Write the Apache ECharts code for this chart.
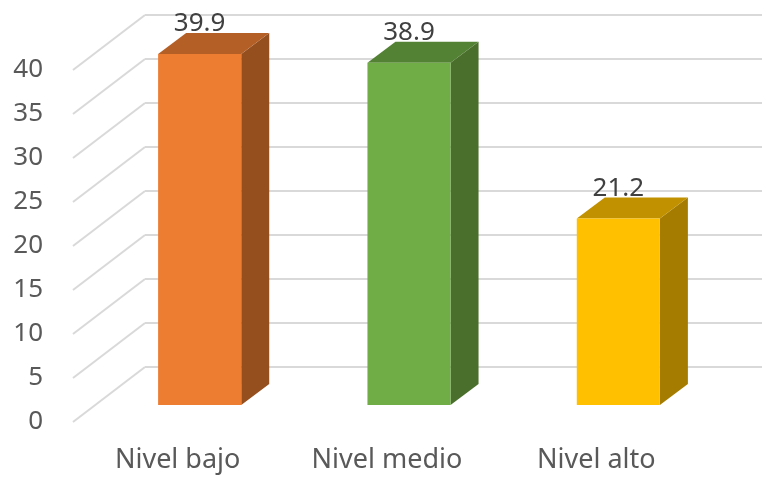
<!DOCTYPE html>
<html>
<head>
<meta charset="utf-8">
<script src="https://cdn.jsdelivr.net/npm/echarts@6/dist/echarts.min.js"></script>
<style>
  html, body { margin: 0; padding: 0; background: #ffffff; }
  #chart { width: 762px; height: 477px; }
</style>
</head>
<body>
<div id="chart"></div>
<script>
// Data
const categories = ['Nivel bajo', 'Nivel medio', 'Nivel alto'];
const values = [39.9, 38.9, 21.2];
const yTicks = [0, 5, 10, 15, 20, 25, 30, 35, 40];

// Shading for each column: front, top, side faces
const faceColors = [
  { front: '#ED7D31', top: '#B45F26', side: '#954F1F' },
  { front: '#70AD47', top: '#548235', side: '#4A6F2D' },
  { front: '#FFC000', top: '#C29100', side: '#A57C00' }
];

// Oblique 3D layout: floor front edge, column front plane, back wall
const PLOT_H = 352;
const WALL_DX = 72, WALL_DY = -55;   // full depth of the floor / side wall
const BAR_DX = 28, BAR_DY = -21;     // depth of each column
const BAR_FRAC = 0.397;              // column width as a share of the category band
const FONT = '"Noto Sans", "Liberation Sans", sans-serif';

const yMin = yTicks[0], yMax = yTicks[yTicks.length - 1], yStep = yTicks[1] - yTicks[0];

const chart = echarts.init(document.getElementById('chart'), null, { renderer: 'canvas' });

const option = {
  backgroundColor: '#ffffff',
  animation: false,
  grid: [
    { left: 73, width: 628, top: 70, height: PLOT_H },   // floor front edge
    { left: 95, width: 628, top: 53, height: PLOT_H },   // column front plane
    { left: 145, right: 0, top: 15, height: PLOT_H }     // back wall
  ],
  xAxis: [
    {
      gridIndex: 0, type: 'category', data: categories,
      axisLine: { show: false }, axisTick: { show: false }, splitLine: { show: false },
      axisLabel: { margin: 25, fontSize: 27, color: '#595959', fontFamily: FONT }
    },
    { gridIndex: 1, type: 'category', data: categories, show: false },
    { gridIndex: 2, type: 'value', min: 0, max: 1, show: false }
  ],
  yAxis: [
    {
      gridIndex: 0, type: 'value', min: yMin, max: yMax, interval: yStep,
      axisLine: { show: false }, axisTick: { show: false }, splitLine: { show: false },
      axisLabel: { margin: 30, fontSize: 26, color: '#595959', fontFamily: FONT }
    },
    { gridIndex: 1, type: 'value', min: yMin, max: yMax, interval: yStep, show: false },
    {
      gridIndex: 2, type: 'value', min: yMin, max: yMax, interval: yStep,
      axisLine: { show: false }, axisTick: { show: false }, axisLabel: { show: false },
      splitLine: { show: true, lineStyle: { color: '#D9D9D9', width: 2 } }
    }
  ],
  series: [
    {
      // Gridlines running along the left side wall
      type: 'custom',
      xAxisIndex: 0, yAxisIndex: 0,
      clip: false, silent: true, z: 1,
      data: yTicks.map(v => [0, v]),
      renderItem: function (params, api) {
        const c = api.coord([api.value(0), api.value(1)]);
        const band = api.size([1, 0])[0];
        const x0 = c[0] - band / 2;
        return {
          type: 'line',
          shape: { x1: x0, y1: c[1], x2: x0 + WALL_DX, y2: c[1] + WALL_DY },
          style: { stroke: '#D9D9D9', lineWidth: 2 }
        };
      }
    },
    {
      // 3D columns with value labels
      type: 'custom',
      xAxisIndex: 1, yAxisIndex: 1,
      clip: false, z: 5,
      data: values.map((v, i) => [i, v]),
      renderItem: function (params, api) {
        const i = api.value(0);
        const v = api.value(1);
        const base = api.coord([i, 0]);
        const top = api.coord([i, v]);
        const w = api.size([1, 0])[0] * BAR_FRAC;
        const x0 = base[0] - w / 2, x1 = base[0] + w / 2;
        const yb = base[1], yt = top[1];
        const col = faceColors[i % faceColors.length];
        return {
          type: 'group',
          children: [
            {
              type: 'polygon',
              shape: { points: [[x1, yt], [x1 + BAR_DX, yt + BAR_DY], [x1 + BAR_DX, yb + BAR_DY], [x1, yb]] },
              style: { fill: col.side }
            },
            {
              type: 'polygon',
              shape: { points: [[x0, yt], [x1, yt], [x1 + BAR_DX, yt + BAR_DY], [x0 + BAR_DX, yt + BAR_DY]] },
              style: { fill: col.top }
            },
            {
              type: 'rect',
              shape: { x: x0, y: yt, width: w, height: yb - yt },
              style: { fill: col.front }
            },
            {
              type: 'text',
              style: {
                text: v.toFixed(1),
                x: base[0],
                y: yt + BAR_DY + 4,
                align: 'center',
                verticalAlign: 'bottom',
                fill: '#404040',
                font: '26px ' + FONT
              }
            }
          ]
        };
      }
    }
  ]
};

chart.setOption(option);
</script>
</body>
</html>
